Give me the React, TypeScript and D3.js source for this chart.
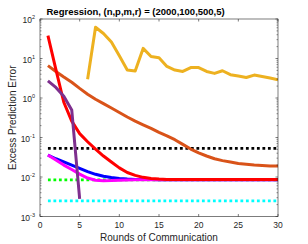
import * as d3 from "d3";

const rounds = [1, 2, 3, 4, 5, 6, 7, 8, 9, 10, 11, 12, 13, 14, 15, 16, 17, 18, 19, 20, 21, 22, 23, 24, 25, 26, 27, 28, 29, 30];

const orangeVals = [6.6, 4.7, 3.4, 2.5, 1.75, 1.25, 0.93, 0.72, 0.56, 0.43, 0.33, 0.26, 0.21, 0.17, 0.135, 0.11, 0.088, 0.067, 0.051, 0.041, 0.034, 0.029, 0.026, 0.024, 0.022, 0.021, 0.020, 0.0195, 0.019, 0.019];
const yellowRounds = [6, 7, 8, 9, 10, 11, 12, 13, 14, 15, 16, 17, 18, 19, 20, 21, 22, 23, 24, 25, 26, 27, 28, 29, 30];
const yellowVals = [3.0, 62, 43, 26, 11.7, 5.1, 4.8, 18, 11.2, 10.5, 6.3, 5.1, 4.7, 5.9, 5.9, 4.7, 4.2, 4.9, 3.9, 3.6, 3.3, 3.8, 3.5, 3.2, 2.9];
const blueVals = [0.036, 0.029, 0.024, 0.020, 0.0165, 0.0137, 0.0117, 0.0104, 0.0097, 0.0092, 0.0089, 0.0087, 0.0086, 0.0086, 0.0085, 0.0085, 0.0085, 0.0085, 0.0085, 0.0085, 0.0085, 0.0085, 0.0085, 0.0085, 0.0085, 0.0085, 0.0085, 0.0085, 0.0085, 0.0085];
const magentaVals = [0.036, 0.027, 0.020, 0.0155, 0.0118, 0.0094, 0.0083, 0.0080, 0.0081, 0.0083, 0.0084, 0.0085, 0.0085, 0.0085, 0.0085, 0.0085, 0.0085, 0.0085, 0.0085, 0.0085, 0.0085, 0.0085, 0.0085, 0.0085, 0.0085, 0.0085, 0.0085, 0.0085, 0.0085, 0.0085];
const redVals = [38, 5.3, 0.78, 0.26, 0.125, 0.078, 0.051, 0.034, 0.024, 0.017, 0.013, 0.011, 0.0098, 0.0092, 0.0089, 0.0087, 0.0086, 0.0086, 0.0086, 0.0086, 0.0086, 0.0086, 0.0086, 0.0086, 0.0086, 0.0086, 0.0086, 0.0086, 0.0086, 0.0086];
const purpleRounds = [1, 2, 3, 4, 5];
const purpleVals = [2.7, 1.85, 1.1, 0.5, 0.0028];

// dotted reference levels
const blackLevel = 0.053;
const greenLevel = 0.0085;
const cyanLevel = 0.0025;

const xTicks = [0, 5, 10, 15, 20, 25, 30];
const yExps = [2, 1, 0, -1, -2, -3];

const width = 308;
const height = 244;
const left = 40;
const right = 278;
const top = 19;
const bottom = 216.5;
const axisColor = "#262626";
const font = "Liberation Sans, Arial, sans-serif";

export default function App() {
  const x = d3.scaleLinear().domain([0, 30]).range([left, right]);
  const y = d3.scaleLog().domain([1e-3, 1e2]).range([bottom, top]);

  const line = d3
    .line<[number, number]>()
    .x((d) => x(d[0]))
    .y((d) => y(d[1]));

  const zip = (xs: number[], ys: number[]) => xs.map((v, i) => [v, ys[i]] as [number, number]);

  const minorTicks: number[] = [];
  for (let e = -3; e < 2; e++) {
    for (let m = 2; m <= 9; m++) minorTicks.push(m * Math.pow(10, e));
  }

  const solid = [
    { c: "#D95319", d: zip(rounds, orangeVals) },
    { c: "#EDB120", d: zip(yellowRounds, yellowVals) },
    { c: "#0000FF", d: zip(rounds, blueVals) },
    { c: "#FF00FF", d: zip(rounds, magentaVals) },
    { c: "#FF0000", d: zip(rounds, redVals) },
    { c: "#7E2F8E", d: zip(purpleRounds, purpleVals) },
  ];
  const dotted = [
    { c: "#000000", v: blackLevel },
    { c: "#00FF00", v: greenLevel },
    { c: "#00FFFF", v: cyanLevel },
  ];

  return (
    <div style={{ position: "fixed", left: 0, top: 0 }}>
      <svg width={width} height={height} style={{ display: "block", background: "#fff" }}>
        <defs>
          <clipPath id="plotclip">
            <rect x={left} y={top} width={right - left} height={bottom - top} />
          </clipPath>
        </defs>
        <rect x={left} y={top} width={right - left} height={bottom - top} fill="#fff" />

        <g clipPath="url(#plotclip)">
          {dotted.map((l, i) => (
            <line
              key={"dot" + i}
              x1={x(rounds[0])}
              x2={x(rounds[rounds.length - 1])}
              y1={y(l.v)}
              y2={y(l.v)}
              stroke={l.c}
              strokeWidth={2.8}
              strokeDasharray="2.8,2.7"
            />
          ))}
          {solid.map((s, i) => (
            <path
              key={"s" + i}
              d={line(s.d) || ""}
              fill="none"
              stroke={s.c}
              strokeWidth={3}
              strokeLinejoin="round"
            />
          ))}
        </g>

        {/* axes box */}
        <rect x={left} y={top} width={right - left} height={bottom - top} fill="none" stroke={axisColor} strokeWidth={0.6} />

        {xTicks.map((t) => (
          <g key={"xt" + t}>
            <line x1={x(t)} x2={x(t)} y1={bottom} y2={bottom - 2.5} stroke={axisColor} strokeWidth={0.6} />
            <line x1={x(t)} x2={x(t)} y1={top} y2={top + 2.5} stroke={axisColor} strokeWidth={0.6} />
            <text x={x(t)} y={bottom + 11} textAnchor="middle" fontFamily={font} fontSize={8.5} fill={axisColor}>
              {t}
            </text>
          </g>
        ))}

        {minorTicks.map((t, i) => (
          <g key={"mt" + i}>
            <line x1={left} x2={left + 1.5} y1={y(t)} y2={y(t)} stroke={axisColor} strokeWidth={0.5} />
            <line x1={right} x2={right - 1.5} y1={y(t)} y2={y(t)} stroke={axisColor} strokeWidth={0.5} />
          </g>
        ))}

        {yExps.map((e) => (
          <g key={"yt" + e}>
            <line x1={left} x2={left + 2.5} y1={y(Math.pow(10, e))} y2={y(Math.pow(10, e))} stroke={axisColor} strokeWidth={0.6} />
            <line x1={right} x2={right - 2.5} y1={y(Math.pow(10, e))} y2={y(Math.pow(10, e))} stroke={axisColor} strokeWidth={0.6} />
            <text x={35} y={y(Math.pow(10, e)) + 4} textAnchor="end" fontFamily={font} fontSize={8.5} fill={axisColor}>
              10
              <tspan dy={-4} fontSize={5.5}>
                {e}
              </tspan>
            </text>
          </g>
        ))}

        <text x={(left + right) / 2} y={240.5} textAnchor="middle" fontFamily={font} fontSize={10} fill={axisColor}>
          Rounds of Communication
        </text>
        <text
          transform={`translate(15.5,${(top + bottom) / 2}) rotate(-90)`}
          textAnchor="middle"
          fontFamily={font}
          fontSize={10}
          fill={axisColor}
        >
          Excess Prediction Error
        </text>
        <text x={46.5} y={15} fontFamily={font} fontSize={9.5} fontWeight="bold" fill="#000">
          Regression, (n,p,m,r) = (2000,100,500,5)
        </text>
      </svg>
    </div>
  );
}
